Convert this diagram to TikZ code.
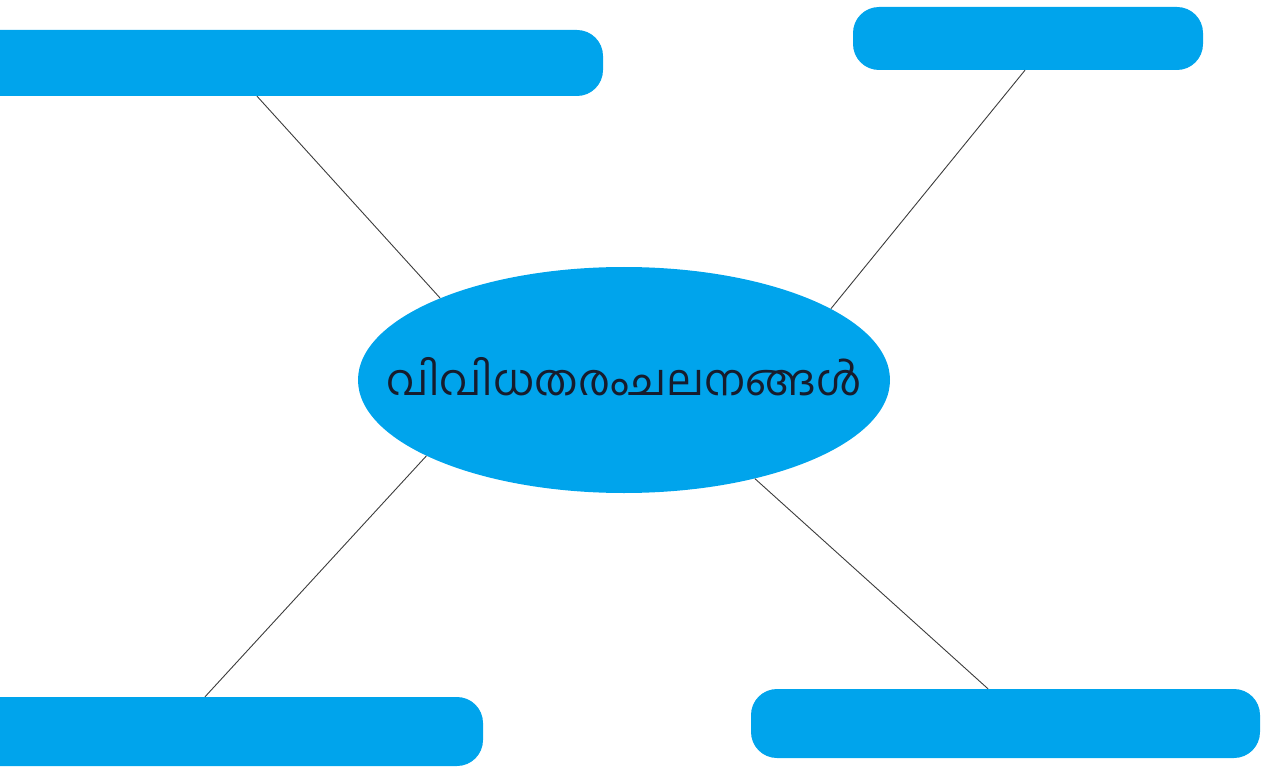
\documentclass[tikz,border=0pt]{standalone}
\usepackage{fontspec}
\newfontfamily\malfont[Script=Malayalam]{Hind Kochi}
\usetikzlibrary{shapes.geometric}
\definecolor{boxblue}{RGB}{0,164,236}
\definecolor{linegray}{RGB}{60,60,60}
\definecolor{textdark}{RGB}{22,28,45}
\tikzset{
  bluebox/.style={rectangle, rounded corners=26, fill=boxblue, draw=none, inner sep=0pt},
  link/.style={draw=linegray, line width=0.9pt},
  maltext/.style={text=textdark, font=\fontsize{43}{50}\selectfont\malfont, inner sep=0pt}
}
\begin{document}
\begin{tikzpicture}[x=1pt,y=1pt,yscale=-1]
\useasboundingbox (0,0) rectangle (1264,770);

%Shape: Ellipse
\node [ellipse, fill=boxblue, minimum width=532, minimum height=226, inner sep=0pt,
  label={[maltext, yshift=3]center:വിവിധതരംചലനങ്ങൾ}] (motion) at (624,380) {};

%Shape: Rounded Rect
\node [bluebox, minimum width=643, minimum height=66] (topleft) at (281.5,63) {};
\node [bluebox, minimum width=350, minimum height=63] (topright) at (1028,38.5) {};
\node [bluebox, minimum width=513, minimum height=69] (botleft) at (226.5,731.5) {};
\node [bluebox, minimum width=509, minimum height=69] (botright) at (1005.5,723.5) {};

%Straight Lines
\draw [link] (motion.156) -- ([xshift=-24.5]topleft.south);
\draw [link] (motion.19) -- ([xshift=-3]topright.south);
\draw [link] (motion.201) -- ([xshift=-21.5]botleft.north);
\draw [link] (motion.-37) -- ([xshift=-17.5]botright.north);

\end{tikzpicture}
\end{document}
